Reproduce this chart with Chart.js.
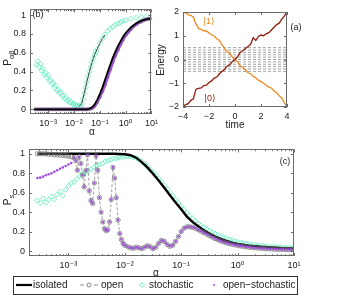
<!DOCTYPE html>
<html>
<head>
<meta charset="utf-8">
<script src="https://cdn.jsdelivr.net/npm/chart.js@4"></script>
<style>
  html, body { margin: 0; padding: 0; background: #fff; }
  #wrap { position: relative; width: 337px; height: 302px; overflow: hidden; }
  canvas { position: absolute; }
</style>
</head>
<body>
<div id="wrap">
  <canvas id="panelB" width="162" height="140" style="left:0px;top:0px"></canvas>
  <canvas id="panelA" width="187" height="140" style="left:150px;top:0px"></canvas>
  <canvas id="panelC" width="337" height="162" style="left:0px;top:140px"></canvas>
</div>
<script>
// ---- panel (a): level energies vs time ----
const timeA = [-4, -3.8, -3.6, -3.4, -3.2, -3, -2.8, -2.6, -2.4, -2.2, -2, -1.8, -1.6, -1.4, -1.2, -1, -0.8, -0.6, -0.4, -0.2, 0,
  0.2, 0.4, 0.6, 0.8, 1, 1.2, 1.4, 1.6, 1.8, 2, 2.2, 2.4, 2.6, 2.8, 3, 3.2, 3.4, 3.6, 3.8, 4];
const energy0 = [-2.0, -1.9, -1.86, -1.72, -1.66, -1.25, -1.22, -1.2, -1.1, -1.08, -0.97, -0.9, -0.78, -0.74, -0.6, -0.5, -0.42, -0.27, -0.22, -0.08,
  0.0, 0.12, 0.3, 0.37, 0.46, 0.55, 0.64, 0.92, 0.8, 0.97, 1.03, 1.0, 1.08, 1.13, 1.24, 1.36, 1.47, 1.53, 1.7, 1.84, 2.0];
const energy1 = [2.0, 1.96, 1.88, 1.86, 1.78, 1.5, 1.3, 1.27, 1.21, 1.2, 1.12, 1.04, 0.99, 0.87, 0.8, 0.62, 0.46, 0.33, 0.26, 0.1,
  0.0, -0.1, -0.27, -0.34, -0.44, -0.56, -0.6, -0.7, -0.77, -0.87, -0.93, -1.0, -1.08, -1.16, -1.2, -1.32, -1.4, -1.53, -1.62, -1.82, -2.0];
const bathLevels = [-0.5, -0.4, -0.3, -0.2, -0.1, 0, 0.1, 0.2, 0.3, 0.4, 0.5];
const timeTicks = [-4, -2, 0, 2, 4];
const timeTickLabels = ['\u22124', '\u22122', '0', '2', '4'];
const energyTicks = [-2, -1, 0, 1, 2];
const energyTickLabels = ['\u22122', '\u22121', '0', '1', '2'];

// ---- shared alpha / probability axes ----
const alphaTicks = [1e-3, 1e-2, 1e-1, 1, 10];
const alphaTickLabels = ['10\u207B\u00B3', '10\u207B\u00B2', '10\u207B\u00B9', '10\u2070', '10\u00B9'];
const pTicks = [0, 0.2, 0.4, 0.6, 0.8, 1];
const pTickLabels = ['0', '0.2', '0.4', '0.6', '0.8', '1'];
const legendLabels = ['isolated', 'open', 'stochastic', 'open\u2212stochastic'];

// ---- panel (b): P_ab vs alpha (log10 alpha values) ----
const logAlphaIsoB = [-3.55, -1.5, -1.4, -1.3, -1.2, -1.1, -1.0, -0.9, -0.8, -0.7, -0.6, -0.5, -0.4, -0.3, -0.2, -0.1, 0, 0.2, 0.4, 0.6, 0.8, 1.0];
const pIsoB = [0, 0, 0.005, 0.02, 0.05, 0.1, 0.16, 0.23, 0.31, 0.39, 0.47, 0.545, 0.61, 0.67, 0.72, 0.77, 0.81, 0.87, 0.91, 0.94, 0.955, 0.965];
const logAlphaOpenB = [-3.5, -3.4, -3.3, -3.2, -3.1, -3.0, -2.9, -2.8, -2.7, -2.6, -2.5, -2.4, -2.3, -2.2, -2.1, -2.0, -1.9, -1.8, -1.7, -1.6, -1.5,
  -1.4, -1.3, -1.2, -1.1, -1.0, -0.9, -0.8, -0.7, -0.6, -0.5, -0.4, -0.3, -0.2, -0.1, 0, 0.1, 0.2, 0.3, 0.4, 0.5, 0.6, 0.7, 0.8, 0.9, 1.0];
const pOpenB = [0, 0, 0, 0, 0, 0, 0, 0, 0, 0, 0, 0, 0, 0, 0, 0, 0, 0, 0, 0, 0,
  0.002, 0.01, 0.035, 0.075, 0.13, 0.19, 0.26, 0.34, 0.42, 0.5, 0.57, 0.63, 0.69, 0.74, 0.785, 0.82, 0.85, 0.88, 0.9, 0.92, 0.93, 0.945, 0.955, 0.96, 0.965];
const logAlphaStochB = [-3.45, -3.4, -3.35, -3.3, -3.25, -3.2, -3.15, -3.1, -3.05, -3.0, -2.95, -2.9, -2.85, -2.8, -2.75, -2.7, -2.65, -2.6, -2.55, -2.5,
  -2.45, -2.4, -2.35, -2.3, -2.25, -2.2, -2.15, -2.1, -2.05, -2.0, -1.95, -1.9, -1.85, -1.8, -1.75, -1.7, -1.65, -1.6, -1.55, -1.5,
  -1.45, -1.4, -1.35, -1.3, -1.25, -1.2, -1.15, -1.1, -1.0, -0.9, -0.8, -0.7, -0.6, -0.5, -0.4, -0.3, -0.2, -0.1, 0, 0.2, 0.4, 0.6, 0.8, 1.0];
const pStochB = [0.47, 0.51, 0.45, 0.48, 0.41, 0.43, 0.37, 0.39, 0.34, 0.36, 0.30, 0.31, 0.27, 0.28, 0.23, 0.25, 0.20, 0.21, 0.17, 0.18,
  0.14, 0.15, 0.11, 0.12, 0.09, 0.10, 0.07, 0.075, 0.055, 0.06, 0.045, 0.04, 0.035, 0.03, 0.04, 0.06, 0.11, 0.17, 0.23, 0.29,
  0.35, 0.40, 0.45, 0.50, 0.54, 0.58, 0.61, 0.64, 0.70, 0.75, 0.79, 0.83, 0.855, 0.875, 0.895, 0.91, 0.925, 0.935, 0.945, 0.96, 0.97, 0.978, 0.984, 0.988];
const logAlphaStochLineB = [-1.8, -1.7, -1.6, -1.5, -1.4, -1.3, -1.2, -1.1, -1.0, -0.9, -0.8];
const pStochLineB = [0.03, 0.06, 0.17, 0.29, 0.40, 0.50, 0.58, 0.64, 0.70, 0.75, 0.79];

// ---- panel (c): P^s vs alpha (log10 alpha values) ----
const logAlphaIsoC = [-3.55, -2.2, -2.0, -1.9, -1.8, -1.7, -1.6, -1.5, -1.4, -1.3, -1.2, -1.1, -1.0, -0.9, -0.8, -0.7, -0.6, -0.5, -0.4, -0.3, -0.2, -0.1, 0, 0.2, 0.4, 0.6, 0.8, 1.0];
const pIsoC = [1, 1, 0.995, 0.985, 0.96, 0.915, 0.86, 0.795, 0.725, 0.65, 0.575, 0.5, 0.43, 0.355, 0.3, 0.255, 0.215, 0.18, 0.15, 0.125, 0.105, 0.088, 0.075, 0.057, 0.045, 0.037, 0.031, 0.027];
const logAlphaOpenC = [-3.55, -3.5, -3.45, -3.4, -3.35, -3.3, -3.25, -3.2, -3.15, -3.1, -3.05, -3, -2.95,
  -2.9, -2.87, -2.84, -2.81, -2.78, -2.75, -2.72, -2.69, -2.66, -2.63, -2.6, -2.57, -2.54, -2.51, -2.48, -2.45, -2.42, -2.39, -2.36, -2.33,
  -2.3, -2.27, -2.24, -2.21, -2.18, -2.15, -2.12, -2.09, -2.06, -2.03, -2,
  -1.95, -1.9, -1.85, -1.8, -1.75, -1.7, -1.65, -1.6, -1.55, -1.5, -1.45, -1.4, -1.35, -1.3, -1.25, -1.2, -1.15, -1.1, -1.05, -1,
  -0.95, -0.9, -0.85, -0.8, -0.75, -0.7, -0.65, -0.6, -0.55, -0.5, -0.45, -0.4, -0.35, -0.3, -0.25, -0.2, -0.15, -0.1, -0.05, 0,
  0.05, 0.1, 0.15, 0.2, 0.25, 0.3, 0.35, 0.4, 0.45, 0.5, 0.55, 0.6, 0.65, 0.7, 0.75, 0.8, 0.85, 0.9, 0.95, 1];
const pOpenC = [1, 1, 1, 1, 0.995, 0.995, 0.99, 0.99, 0.985, 0.985, 0.98, 0.975, 0.97,
  0.96, 0.93, 0.83, 0.97, 0.9, 0.78, 0.66, 0.83, 0.99, 0.62, 0.52, 0.49, 0.7, 0.98, 0.83, 0.55, 0.4, 0.3, 0.23, 0.21,
  0.22, 0.3, 0.53, 0.86, 0.75, 0.55, 0.32, 0.18, 0.12, 0.08, 0.06,
  0.045, 0.035, 0.03, 0.04, 0.035, 0.025, 0.04, 0.055, 0.045, 0.025, 0.04, 0.08, 0.11, 0.1, 0.07, 0.05, 0.06, 0.1, 0.15, 0.2,
  0.235, 0.25, 0.25, 0.245, 0.235, 0.22, 0.205, 0.19, 0.175, 0.16, 0.145, 0.13, 0.117, 0.105, 0.095, 0.086, 0.078, 0.071, 0.065, 0.059,
  0.054, 0.049, 0.045, 0.041, 0.038, 0.035, 0.032, 0.03, 0.028, 0.026, 0.024, 0.023, 0.021, 0.02, 0.019, 0.018, 0.017, 0.016, 0.015, 0.015];
const logAlphaOpenStochC = [-3.55, -3.5, -3.45, -3.4, -3.35, -3.3, -3.25, -3.2, -3.15, -3.1, -3.05, -3, -2.95];
const pOpenStochC = [0.75, 0.755, 0.765, 0.78, 0.79, 0.8, 0.815, 0.83, 0.845, 0.86, 0.875, 0.89, 0.905];
const logAlphaStochC = [-3.55, -3.5, -3.45, -3.4, -3.35, -3.3, -3.25, -3.2, -3.15, -3.1, -3.05, -3, -2.95, -2.9, -2.85, -2.8, -2.75, -2.7, -2.65, -2.6,
  -2.55, -2.5, -2.45, -2.4, -2.35, -2.3, -2.25, -2.2, -2.15, -2.1, -2.05, -2, -1.95, -1.9, -1.85, -1.8, -1.75, -1.7, -1.65, -1.6,
  -1.55, -1.5, -1.45, -1.4, -1.35, -1.3, -1.25, -1.2, -1.15, -1.1, -1.05, -1, -0.95, -0.9, -0.85, -0.8, -0.75, -0.7, -0.65, -0.6,
  -0.55, -0.5, -0.45, -0.4, -0.35, -0.3, -0.25, -0.2, -0.15, -0.1, -0.05, 0, 0.05, 0.1, 0.15, 0.2, 0.25, 0.3, 0.35, 0.4,
  0.45, 0.5, 0.55, 0.6, 0.65, 0.7, 0.75, 0.8, 0.85, 0.9, 0.95, 1];
const pStochC = [0.52, 0.49, 0.54, 0.50, 0.53, 0.56, 0.53, 0.58, 0.61, 0.57, 0.63,
  0.67, 0.70, 0.71, 0.74, 0.77, 0.80, 0.80, 0.83, 0.84, 0.86, 0.88,
  0.89, 0.90, 0.92, 0.93, 0.94, 0.95, 0.955, 0.96, 0.965, 0.97, 0.97,
  0.97, 0.965, 0.955, 0.94, 0.92, 0.895, 0.865, 0.835, 0.81, 0.78, 0.745,
  0.71, 0.675, 0.64, 0.60, 0.565, 0.53, 0.495, 0.46, 0.425, 0.395, 0.365,
  0.335, 0.31, 0.285, 0.265, 0.245, 0.228, 0.21, 0.195, 0.18, 0.167, 0.155,
  0.143, 0.132, 0.122, 0.113, 0.105, 0.097, 0.09, 0.084, 0.078, 0.073, 0.068,
  0.064, 0.06, 0.057, 0.054, 0.051, 0.048, 0.046, 0.044, 0.042, 0.04, 0.039,
  0.037, 0.036, 0.035, 0.034];

// ---- styling ----
const FONT = '"Liberation Sans", Arial, "DejaVu Sans", sans-serif';
const TEXT = '#222';
const FRAME = '#6b6b6b';
const AQUA = '#5cefc0';
const PURPLE = '#a24de0';
const CIRCLE = '#6a6a6a';
const DARKRED = '#8e1b0e';
const ORANGE = '#f2891e';
const CLEAR = 'rgba(0,0,0,0)';

Chart.defaults.font.family = FONT;
Chart.defaults.color = TEXT;

const pts = (xs, ys, isLog) => xs.map((x, i) => ({ x: isLog ? Math.pow(10, x) : x, y: ys[i] }));

function axis(type, min, max, ticks, labels, size, horizontal) {
  return {
    type, min, max,
    grid: { display: false, drawTicks: false },
    border: { display: false },
    ticks: {
      autoSkip: false, maxRotation: 0, minRotation: 0,
      padding: 4, color: TEXT, font: { size: 9 },
      callback: (v, i) => labels[i]
    },
    afterBuildTicks: (s) => { s.ticks = ticks.map(v => ({ value: v })); },
    afterFit: (s) => { if (horizontal) s.height = size; else s.width = size; }
  };
}

// box round the plot area, with ticks pointing inwards (minor ones on log axes)
function framePlugin(logX) {
  return {
    id: 'frame',
    afterDatasetsDraw(chart) {
      const { ctx, chartArea: a, scales } = chart;
      const xs = scales.x, ys = scales.y;
      const line = (x1, y1, x2, y2) => { ctx.beginPath(); ctx.moveTo(x1, y1); ctx.lineTo(x2, y2); ctx.stroke(); };
      ctx.save();
      ctx.strokeStyle = FRAME;
      ctx.lineWidth = 1;
      ctx.strokeRect(Math.round(a.left) + 0.5, Math.round(a.top) + 0.5, Math.round(a.right - a.left) - 1, Math.round(a.bottom - a.top) - 1);
      xs.ticks.forEach(t => {
        const px = Math.round(xs.getPixelForValue(t.value)) + 0.5;
        line(px, a.bottom, px, a.bottom - 3); line(px, a.top, px, a.top + 3);
      });
      ys.ticks.forEach(t => {
        const py = Math.round(ys.getPixelForValue(t.value)) + 0.5;
        line(a.left, py, a.left + 3, py); line(a.right, py, a.right - 3, py);
      });
      if (logX) {
        for (let d = Math.floor(Math.log10(xs.min)); d < Math.log10(xs.max); d++) {
          for (let m = 2; m < 10; m++) {
            const v = m * Math.pow(10, d);
            if (v < xs.min || v > xs.max) continue;
            const px = Math.round(xs.getPixelForValue(v)) + 0.5;
            line(px, a.bottom, px, a.bottom - 1.8); line(px, a.top, px, a.top + 1.8);
          }
        }
      }
      ctx.restore();
    }
  };
}

// free text: axis titles, panel tags, ket labels (sub for P labels)
function notesPlugin(notes) {
  return {
    id: 'notes',
    afterDraw(chart) {
      const ctx = chart.ctx;
      notes.forEach(n => {
        const size = n.size || 10;
        const big = `${size}px ${FONT}`, small = `${size * 0.75}px ${FONT}`;
        ctx.save();
        ctx.translate(n.x, n.y);
        if (n.rotate) ctx.rotate(n.rotate);
        ctx.fillStyle = n.color || TEXT;
        ctx.textBaseline = 'middle';
        ctx.textAlign = 'left';
        ctx.font = big;
        const w1 = ctx.measureText(n.text).width;
        let w2 = 0;
        if (n.sub) { ctx.font = small; w2 = ctx.measureText(n.sub).width; }
        const x0 = -(w1 + w2) / 2;
        ctx.font = big;
        ctx.fillText(n.text, x0, 0);
        if (n.sub) { ctx.font = small; ctx.fillText(n.sub, x0 + w1, size * 0.35); }
        ctx.restore();
      });
    }
  };
}

// framed legend below panel (c)
const legendPlugin = {
  id: 'boxLegend',
  afterDraw(chart) {
    const ctx = chart.ctx;
    const y = 145;
    ctx.save();
    ctx.strokeStyle = '#333';
    ctx.lineWidth = 1;
    ctx.strokeRect(13.5, 136.5, 284, 18);
    ctx.font = `10px ${FONT}`;
    ctx.fillStyle = TEXT;
    ctx.textBaseline = 'middle';
    // isolated
    ctx.strokeStyle = '#000'; ctx.lineWidth = 2.2;
    ctx.beginPath(); ctx.moveTo(16, y); ctx.lineTo(32, y); ctx.stroke();
    ctx.fillText(legendLabels[0], 33, y);
    // open
    ctx.strokeStyle = '#777'; ctx.lineWidth = 0.8;
    ctx.beginPath(); ctx.moveTo(80, y); ctx.lineTo(84, y); ctx.moveTo(94, y); ctx.lineTo(98, y); ctx.stroke();
    ctx.strokeStyle = CIRCLE;
    ctx.beginPath(); ctx.arc(89, y, 2, 0, Math.PI * 2); ctx.stroke();
    ctx.fillText(legendLabels[1], 101, y);
    // stochastic
    ctx.strokeStyle = AQUA; ctx.lineWidth = 0.9;
    ctx.beginPath(); ctx.moveTo(142, y - 2.5); ctx.lineTo(144.5, y); ctx.lineTo(142, y + 2.5); ctx.lineTo(139.5, y); ctx.closePath(); ctx.stroke();
    ctx.fillText(legendLabels[2], 149, y);
    // open-stochastic
    ctx.fillStyle = PURPLE;
    ctx.beginPath(); ctx.arc(214, y, 1, 0, Math.PI * 2); ctx.fill();
    ctx.fillStyle = TEXT;
    ctx.fillText(legendLabels[3], 223, y);
    ctx.restore();
  }
};

const baseOptions = (padding, scales) => ({
  responsive: false, animation: false, events: [],
  layout: { padding },
  plugins: { legend: { display: false }, tooltip: { enabled: false } },
  scales
});

// ---- panel (b) ----
new Chart(document.getElementById('panelB'), {
  type: 'scatter',
  data: {
    datasets: [
      { data: pts(logAlphaIsoB, pIsoB, true), showLine: true, borderColor: '#000', borderWidth: 1.8, pointRadius: 0 },
      { data: pts(logAlphaStochLineB, pStochLineB, true), showLine: true, borderColor: '#1a1a1a', borderWidth: 0.8, pointRadius: 0 },
      { data: pts(logAlphaOpenB, pOpenB, true), showLine: false, borderColor: CIRCLE, pointRadius: 1.6, pointBorderWidth: 0.6, pointBackgroundColor: CLEAR },
      { data: pts(logAlphaOpenB, pOpenB, true), showLine: true, borderColor: PURPLE, borderWidth: 3, pointRadius: 0 },
      { data: pts(logAlphaStochB, pStochB, true), showLine: false, borderColor: AQUA, pointStyle: 'rectRot', pointRadius: 2.6, pointBorderWidth: 0.8, pointBackgroundColor: CLEAR }
    ]
  },
  options: baseOptions({ top: 5, right: 5, left: 0, bottom: 0 }, {
    x: axis('logarithmic', 2e-4, 10, alphaTicks, alphaTickLabels, 26, true),
    y: axis('linear', -0.05, 1.06, pTicks, pTickLabels, 30, false)
  }),
  plugins: [framePlugin(true), notesPlugin([
    { text: '(b)', x: 38, y: 15, size: 9 },
    { text: '\u03B1', x: 92, y: 132, size: 10 },
    { text: 'P', sub: '\u03B1\u03B2', x: 8, y: 58, rotate: -Math.PI / 2, size: 10 }
  ])]
});

// ---- panel (a) ----
const bathSets = bathLevels.map(lv => ({
  data: [{ x: timeA[0], y: lv }, { x: timeA[timeA.length - 1], y: lv }],
  showLine: true, borderColor: '#8c8c8c', borderWidth: 0.8, borderDash: [3, 2], pointRadius: 0
}));
new Chart(document.getElementById('panelA'), {
  type: 'scatter',
  data: {
    datasets: [
      { data: pts(timeA, energy0, false), showLine: true, borderColor: DARKRED, borderWidth: 1.3, pointRadius: 0 },
      { data: pts(timeA, energy1, false), showLine: true, borderColor: ORANGE, borderWidth: 1.3, pointRadius: 0 },
      ...bathSets
    ]
  },
  options: baseOptions({ top: 12, right: 50, left: 0, bottom: 0 }, {
    x: axis('linear', -4, 4, timeTicks, timeTickLabels, 33, true),
    y: axis('linear', -2, 2, energyTicks, energyTickLabels, 33, false)
  }),
  plugins: [framePlugin(false), notesPlugin([
    { text: 'Energy', x: 11, y: 60, rotate: -Math.PI / 2, size: 10 },
    { text: 'time', x: 85, y: 125, size: 10 },
    { text: '(a)', x: 146, y: 28, size: 9 },
    { text: '|1\u27E9', x: 59, y: 22, size: 9, color: ORANGE },
    { text: '|0\u27E9', x: 60, y: 99, size: 9, color: DARKRED }
  ])]
});

// ---- panel (c) ----
const openPtsC = pts(logAlphaOpenC, pOpenC, true);
new Chart(document.getElementById('panelC'), {
  type: 'scatter',
  data: {
    datasets: [
      { data: [...pts(logAlphaOpenStochC, pOpenStochC, true), ...openPtsC.slice(logAlphaOpenStochC.length)], showLine: false,
        borderColor: PURPLE, pointRadius: 1.3, pointBorderWidth: 0, pointBackgroundColor: PURPLE },
      { data: openPtsC, showLine: true, borderColor: '#7a7a7a', borderWidth: 0.7, borderDash: [3, 2],
        pointRadius: 2.2, pointBorderColor: CIRCLE, pointBorderWidth: 0.7, pointBackgroundColor: CLEAR },
      { data: pts(logAlphaIsoC, pIsoC, true), showLine: true, borderColor: '#000', borderWidth: 2.4, pointRadius: 0 },
      { data: pts(logAlphaStochC, pStochC, true), showLine: false, borderColor: AQUA, pointStyle: 'rectRot', pointRadius: 2.5, pointBorderWidth: 0.8, pointBackgroundColor: CLEAR }
    ]
  },
  options: baseOptions({ top: 9, right: 43, left: 0, bottom: 0 }, {
    x: axis('logarithmic', 2e-4, 10, alphaTicks, alphaTickLabels, 46, true),
    y: axis('linear', -0.05, 1.045, pTicks, pTickLabels, 29, false)
  }),
  plugins: [framePlugin(true), legendPlugin, notesPlugin([
    { text: '(c)', x: 285, y: 22, size: 9 },
    { text: '\u03B1', x: 156, y: 133, size: 10 },
    { text: 'P', sub: 's', x: 8, y: 60, rotate: -Math.PI / 2, size: 10 }
  ])]
});
</script>
</body>
</html>
